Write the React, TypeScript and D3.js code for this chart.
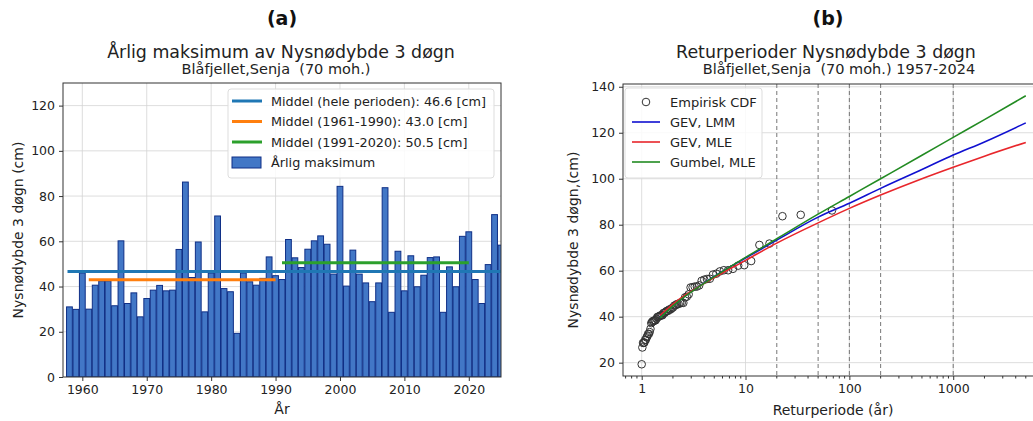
import React, { useEffect, useRef } from "react";
import * as d3 from "d3";

// annual maximum of 3-day new snow depth (cm), one bar per year
const years = d3.range(1958, 2026);
const annualMax = [
  31.0, 29.9, 46.0, 30.0, 40.6, 42.5, 42.5, 31.5, 60.2, 32.5,
  37.2, 26.6, 34.7, 38.4, 40.5, 38.1, 38.4, 56.4, 86.2, 44.0,
  59.7, 28.8, 46.0, 71.2, 39.1, 37.7, 19.3, 46.0, 42.1, 40.6,
  43.6, 53.1, 44.8, 43.1, 60.8, 52.7, 48.4, 56.5, 60.2, 62.4,
  58.7, 45.5, 84.3, 40.2, 56.1, 45.5, 41.6, 33.3, 41.6, 83.7,
  28.6, 55.6, 38.1, 53.6, 39.9, 45.0, 52.8, 53.1, 28.6, 48.7,
  39.9, 62.2, 64.2, 43.1, 32.5, 49.7, 71.8, 58.3,
];

const meanLabels = [
  "Middel (hele perioden): 46.6 [cm]",
  "Middel (1961-1990): 43.0 [cm]",
  "Middel (1991-2020): 50.5 [cm]",
];
const meanValues = [46.6, 43.0, 50.5];
const meanPeriods = [
  [1957.7, 2025.5],
  [1961, 1990],
  [1991, 2020],
];
const meanColors = ["#1f77b4", "#ff7f0e", "#2ca02c"];

// fitted return level curves (cm) read at these return periods (år)
const returnPeriods = [1.5, 2, 5, 10, 20, 50, 100, 200, 500, 1000, 2000, 5000];
const gevLmm = [40.0, 45.0, 57.5, 65.5, 73.3, 83.3, 89.3, 95.8, 104.0, 110.3, 116.0, 124.3];
const gevMle = [40.5, 45.5, 57.0, 64.5, 72.0, 80.8, 87.1, 92.9, 100.0, 105.0, 109.8, 115.8];
const gumbelMle = [39.5, 44.7, 57.4, 65.8, 73.9, 84.6, 92.3, 100.0, 110.2, 118.0, 125.7, 136.1];

const curveNames = ["GEV, LMM", "GEV, MLE", "Gumbel, MLE"];
const curveColors = ["#1010d0", "#e8262b", "#228b22"];
const dashedPeriods = [20, 50, 100, 200, 1000];

const FONT = "DejaVu Sans, sans-serif";

const App = () => {
  const svgRef = useRef<SVGSVGElement>(null);

  useEffect(() => {
    const svg = d3.select(svgRef.current);
    svg.selectAll("*").remove();
    svg.style("font-family", FONT);

    // ---------- (a) bar chart ----------
    const A = { left: 63, right: 501, top: 83, bottom: 377 };
    const xA = d3.scaleLinear().domain([1957, 2025]).range([A.left, A.right]);
    const yA = d3.scaleLinear().domain([0, 130]).range([A.bottom, A.top]);

    svg.append("clipPath").attr("id", "clipA")
      .append("rect")
      .attr("x", A.left).attr("y", A.top)
      .attr("width", A.right - A.left).attr("height", A.bottom - A.top);

    const ga = svg.append("g");

    // grid
    ga.selectAll(".gy").data(d3.range(20, 121, 20)).enter()
      .append("line")
      .attr("x1", A.left).attr("x2", A.right)
      .attr("y1", (d) => yA(d)).attr("y2", (d) => yA(d))
      .attr("stroke", "#d4d4d4").attr("stroke-width", 0.8);
    ga.selectAll(".gx").data(d3.range(1960, 2021, 10)).enter()
      .append("line")
      .attr("y1", A.top).attr("y2", A.bottom)
      .attr("x1", (d) => xA(d)).attr("x2", (d) => xA(d))
      .attr("stroke", "#d4d4d4").attr("stroke-width", 0.8);

    const plotA = ga.append("g").attr("clip-path", "url(#clipA)");
    const bw = xA(1) - xA(0);
    plotA.selectAll(".bar").data(annualMax).enter()
      .append("rect")
      .attr("x", (_, i) => xA(years[i]) - bw * 0.45)
      .attr("width", bw * 0.9)
      .attr("y", (d) => yA(d))
      .attr("height", (d) => yA(0) - yA(d))
      .attr("fill", "#4277c6")
      .attr("stroke", "#0f2f86")
      .attr("stroke-width", 1);

    plotA.selectAll(".mean").data(meanValues).enter()
      .append("line")
      .attr("x1", (_, i) => xA(meanPeriods[i][0]))
      .attr("x2", (_, i) => xA(meanPeriods[i][1]))
      .attr("y1", (d) => yA(d)).attr("y2", (d) => yA(d))
      .attr("stroke", (_, i) => meanColors[i])
      .attr("stroke-width", 3);

    // axes
    ga.append("rect")
      .attr("x", A.left).attr("y", A.top)
      .attr("width", A.right - A.left).attr("height", A.bottom - A.top)
      .attr("fill", "none").attr("stroke", "#333").attr("stroke-width", 1);

    const axA = ga.append("g").attr("transform", `translate(0,${A.bottom})`)
      .call(d3.axisBottom(xA).tickValues(d3.range(1960, 2021, 10)).tickFormat(d3.format("d")).tickSize(4).tickPadding(4));
    const ayA = ga.append("g").attr("transform", `translate(${A.left},0)`)
      .call(d3.axisLeft(yA).tickValues(d3.range(0, 121, 20)).tickSize(4).tickPadding(4));
    [axA, ayA].forEach((ax) => {
      ax.select(".domain").remove();
      ax.selectAll("text").attr("font-size", 12.5).attr("fill", "#222").attr("font-family", FONT);
      ax.selectAll("line").attr("stroke", "#333");
    });

    ga.append("text").attr("x", 282).attr("y", 414).attr("text-anchor", "middle")
      .attr("font-size", 14).attr("fill", "#222").text("År");
    ga.append("text").attr("transform", "translate(23,230) rotate(-90)")
      .attr("text-anchor", "middle").attr("font-size", 14).attr("fill", "#222")
      .text("Nysnødybde 3 døgn (cm)");

    ga.append("text").attr("x", 282).attr("y", 25).attr("text-anchor", "middle")
      .attr("font-size", 19).attr("font-weight", "bold").attr("fill", "#111").text("(a)");
    ga.append("text").attr("x", 281).attr("y", 58).attr("text-anchor", "middle")
      .attr("font-size", 17.4).attr("fill", "#222").text("Årlig maksimum av Nysnødybde 3 døgn");
    ga.append("text").attr("x", 276).attr("y", 74).attr("text-anchor", "middle")
      .attr("font-size", 14.5).attr("fill", "#222").style("white-space", "pre")
      .text("Blåfjellet,Senja  (70 moh.)");

    // legend (a)
    const legA = ga.append("g");
    legA.append("rect").attr("x", 228).attr("y", 89).attr("width", 266).attr("height", 89)
      .attr("rx", 3).attr("fill", "white").attr("fill-opacity", 0.85)
      .attr("stroke", "#ddd");
    meanLabels.forEach((lbl, i) => {
      const yy = 101 + i * 20.5;
      legA.append("line").attr("x1", 232).attr("x2", 262).attr("y1", yy).attr("y2", yy)
        .attr("stroke", meanColors[i]).attr("stroke-width", 3);
      legA.append("text").attr("x", 271).attr("y", yy + 4.5).attr("font-size", 12.8)
        .attr("fill", "#222").text(lbl);
    });
    legA.append("rect").attr("x", 232).attr("y", 157).attr("width", 29).attr("height", 11)
      .attr("fill", "#4277c6").attr("stroke", "#0f2f86");
    legA.append("text").attr("x", 271).attr("y", 166.5).attr("font-size", 12.8)
      .attr("fill", "#222").text("Årlig maksimum");

    // ---------- (b) return periods ----------
    const B = { left: 623, right: 1045, top: 84, bottom: 376 };
    const xB = d3.scaleLog().domain([Math.pow(10, -0.18), Math.pow(10, 3.884)]).range([B.left, B.right]);
    const yB = d3.scaleLinear().domain([14.2, 141.2]).range([B.bottom, B.top]);

    svg.append("clipPath").attr("id", "clipB")
      .append("rect")
      .attr("x", B.left).attr("y", B.top)
      .attr("width", B.right - B.left).attr("height", B.bottom - B.top);

    const gb = svg.append("g");
    const majors = [1, 10, 100, 1000];
    const yTicksB = d3.range(20, 141, 20);
    gb.selectAll(".gy").data(yTicksB).enter().append("line")
      .attr("x1", B.left).attr("x2", B.right)
      .attr("y1", (d) => yB(d)).attr("y2", (d) => yB(d))
      .attr("stroke", "#d4d4d4").attr("stroke-width", 0.8);
    gb.selectAll(".gx").data(majors).enter().append("line")
      .attr("y1", B.top).attr("y2", B.bottom)
      .attr("x1", (d) => xB(d)).attr("x2", (d) => xB(d))
      .attr("stroke", "#d4d4d4").attr("stroke-width", 0.8);
    gb.selectAll(".dash").data(dashedPeriods).enter().append("line")
      .attr("y1", B.top).attr("y2", B.bottom)
      .attr("x1", (d) => xB(d)).attr("x2", (d) => xB(d))
      .attr("stroke", "#777").attr("stroke-width", 1).attr("stroke-dasharray", "4,3");

    // empirical points: sorted maxima at return period n/rank
    const n = annualMax.length;
    const empirical = [...annualMax].sort(d3.descending).map((v, i) => ({ T: n / (i + 1), v }));
    const plotB = gb.append("g").attr("clip-path", "url(#clipB)");
    plotB.selectAll(".pt").data(empirical).enter().append("circle")
      .attr("cx", (d) => xB(d.T)).attr("cy", (d) => yB(d.v)).attr("r", 3.8)
      .attr("fill", "none").attr("stroke", "#333").attr("stroke-width", 1);

    const line = d3.line<number>()
      .x((_, i) => xB(returnPeriods[i]))
      .y((d) => yB(d))
      .curve(d3.curveMonotoneX);
    [gevLmm, gevMle, gumbelMle].forEach((series, k) => {
      plotB.append("path").datum(series).attr("d", line)
        .attr("fill", "none").attr("stroke", curveColors[k]).attr("stroke-width", 1.6);
    });

    gb.append("rect")
      .attr("x", B.left).attr("y", B.top)
      .attr("width", B.right - B.left).attr("height", B.bottom - B.top)
      .attr("fill", "none").attr("stroke", "#333").attr("stroke-width", 1);

    const minors: number[] = [];
    [0.1, 1, 10, 100, 1000].forEach((dec) => {
      for (let m = 2; m <= 9; m++) minors.push(dec * m);
    });
    const axB = gb.append("g").attr("transform", `translate(0,${B.bottom})`)
      .call(d3.axisBottom(xB).tickValues(majors).tickFormat(d3.format("d")).tickSize(4).tickPadding(4));
    gb.append("g").attr("transform", `translate(0,${B.bottom})`)
      .selectAll("line").data(minors.filter((m) => m > xB.domain()[0])).enter().append("line")
      .attr("x1", (d) => xB(d)).attr("x2", (d) => xB(d)).attr("y1", 0).attr("y2", 2.5)
      .attr("stroke", "#333");
    const ayB = gb.append("g").attr("transform", `translate(${B.left},0)`)
      .call(d3.axisLeft(yB).tickValues(yTicksB).tickSize(4).tickPadding(4));
    [axB, ayB].forEach((ax) => {
      ax.select(".domain").remove();
      ax.selectAll("text").attr("font-size", 12.5).attr("fill", "#222").attr("font-family", FONT);
      ax.selectAll("line").attr("stroke", "#333");
    });

    gb.append("text").attr("x", 833).attr("y", 415).attr("text-anchor", "middle")
      .attr("font-size", 14).attr("fill", "#222").text("Returperiode (år)");
    gb.append("text").attr("transform", "translate(578,240) rotate(-90)")
      .attr("text-anchor", "middle").attr("font-size", 14).attr("fill", "#222")
      .text("Nysnødybde 3 døgn,(cm)");

    gb.append("text").attr("x", 828).attr("y", 25).attr("text-anchor", "middle")
      .attr("font-size", 19).attr("font-weight", "bold").attr("fill", "#111").text("(b)");
    gb.append("text").attr("x", 826).attr("y", 58).attr("text-anchor", "middle")
      .attr("font-size", 17.4).attr("fill", "#222").text("Returperioder Nysnødybde 3 døgn");
    gb.append("text").attr("x", 839).attr("y", 74).attr("text-anchor", "middle")
      .attr("font-size", 14.5).attr("fill", "#222").style("white-space", "pre")
      .text("Blåfjellet,Senja  (70 moh.) 1957-2024");

    // legend (b)
    const legB = gb.append("g");
    legB.append("rect").attr("x", 625).attr("y", 88).attr("width", 137).attr("height", 90)
      .attr("rx", 3).attr("fill", "white").attr("fill-opacity", 0.85).attr("stroke", "#ddd");
    legB.append("circle").attr("cx", 646).attr("cy", 102).attr("r", 3.8)
      .attr("fill", "none").attr("stroke", "#333");
    legB.append("text").attr("x", 670).attr("y", 106.5).attr("font-size", 13)
      .attr("fill", "#222").text("Empirisk CDF");
    curveNames.forEach((name, k) => {
      const yy = 122 + k * 20;
      legB.append("line").attr("x1", 632).attr("x2", 660).attr("y1", yy).attr("y2", yy)
        .attr("stroke", curveColors[k]).attr("stroke-width", 1.6);
      legB.append("text").attr("x", 670).attr("y", yy + 4.5).attr("font-size", 13)
        .attr("fill", "#222").text(name);
    });
  }, []);

  return (
    <svg
      ref={svgRef}
      width={1033}
      height={421}
      style={{ position: "absolute", left: 0, top: 0, background: "white" }}
    ></svg>
  );
};

export default App;
